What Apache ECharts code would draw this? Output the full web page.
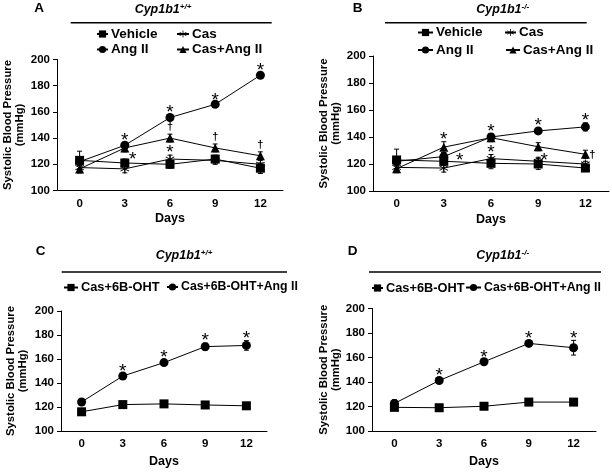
<!DOCTYPE html>
<html><head><meta charset="utf-8">
<script src="https://cdn.jsdelivr.net/npm/echarts@6/dist/echarts.min.js"></script>
<style>html,body{margin:0;padding:0;background:#fff}#c{width:612px;height:473px}</style>
</head><body><div id="c"></div>
<script>
// ---- data ----
const days = ['0', '3', '6', '9', '12'];
const yMin = 100, yMax = 200, yStep = 20;

// Panel A: Cyp1b1 +/+
const vehA = [123, 121, 120, 124, 117];
const casA = [117.5, 116.5, 124, 123, 120];
const angA = [122, 134.5, 155.7, 165.8, 188];
const casAngA = [116.5, 132.5, 140, 132.5, 126.5];
const vehAErr = [7, 3, 3, 3, 4];
const casAErr = [4, 3, 3, 3, 3];
const angAErr = [3, 2, 2, 1.5, 1.5];
const casAngAErr = [3, 3, 3, 3, 3];
const vehASig = ['', '*', '', '', ''];
const casASig = ['', '', '*', '', ''];
const angASig = ['', '*', '*', '*', '*'];
const casAngASig = ['', '', '\u2020', '\u2020', '\u2020'];

// Panel B: Cyp1b1 -/-
const vehB = [123, 122, 120.5, 120, 117];
const casB = [117.5, 117, 124, 122, 120];
const angB = [122, 125.5, 140, 144.5, 147.5];
const casAngB = [116.5, 132.5, 139.5, 132.8, 127.2];
const vehBErr = [8, 3, 4, 4, 2];
const casBErr = [3, 3, 3, 3, 2];
const angBErr = [3, 3, 2, 2, 3];
const casAngBErr = [3, 4, 3, 3, 3];
const vehBSig = ['', '*', '', '*', ''];
const casBSig = ['', '', '*', '', ''];
const angBSig = ['', '', '', '*', '*'];
const casAngBSig = ['', '*', '*', '', '\u2020'];

// Panel C: Cyp1b1 +/+
const ohtC = [116, 122, 122.6, 121.7, 121];
const ohtAngC = [124.2, 145.8, 157, 170.3, 171.3];
const ohtCErr = [2, 2, 2, 2, 2];
const ohtAngCErr = [2, 2, 2, 3, 4];
const ohtAngCSig = ['', '*', '*', '*', '*'];

// Panel D: Cyp1b1 -/-
const ohtD = [119.3, 119, 120.2, 123.6, 123.6];
const ohtAngD = [122.5, 141.2, 156.5, 171.5, 168];
const ohtDErr = [1.5, 1.5, 1.5, 1.5, 1.5];
const ohtAngDErr = [3, 2, 2, 2, 6];
const ohtAngDSig = ['', '*', '*', '*', '*'];

const yName = 'Systolic Blood Pressure\n(mmHg)';
const xName = 'Days';

// ---- styling ----
const F = 'Liberation Sans, Arial, sans-serif';
const STAR = 'path://M4.5,0L5.5,0L5.5,10L4.5,10Z M0.42,2.93L0.92,2.07L9.58,7.07L9.08,7.93Z M0.92,7.93L0.42,7.07L9.08,2.07L9.58,2.93Z';

const grids = [
  {left: 57, top: 59.5, width: 226, height: 131},
  {left: 373, top: 56, width: 236, height: 135},
  {left: 61, top: 311, width: 206, height: 120},
  {left: 372, top: 308.5, width: 224, height: 122.5}
];
const yNameGap = [31, 31, 32, 29];
const xNameGap = [22, 22, 24, 24];

function xAx(g) {
  return {type: 'category', gridIndex: g, data: days, boundaryGap: true,
    axisLine: {lineStyle: {color: '#000', width: 1}},
    axisTick: {alignWithLabel: true, length: 4, lineStyle: {color: '#000'}},
    axisLabel: {color: '#000', fontSize: 11.5, fontWeight: 'bold', fontFamily: F, margin: 7},
    name: xName, nameLocation: 'middle', nameGap: xNameGap[g],
    nameTextStyle: {color: '#000', fontSize: 12.5, fontWeight: 'bold', fontFamily: F}};
}
function yAx(g) {
  return {type: 'value', gridIndex: g, min: yMin, max: yMax, interval: yStep,
    splitLine: {show: false},
    axisLine: {show: true, lineStyle: {color: '#000', width: 1}},
    axisTick: {show: true, length: 4, lineStyle: {color: '#000'}},
    axisLabel: {color: '#000', fontSize: 11.5, fontWeight: 'bold', fontFamily: F, margin: 7},
    name: yName, nameLocation: 'middle', nameGap: yNameGap[g], nameRotate: 90,
    nameTextStyle: {color: '#000', fontSize: 11.3, fontWeight: 'bold', fontFamily: F, lineHeight: 12}};
}
function line(name, g, vals, symbol, size) {
  return {type: 'line', name, xAxisIndex: g, yAxisIndex: g, data: vals,
    symbol, symbolSize: size, showSymbol: true,
    lineStyle: {color: '#000', width: 1}, itemStyle: {color: '#000'}, z: 4};
}
function err(g, vals, errs) {
  return {type: 'custom', xAxisIndex: g, yAxisIndex: g, z: 3, silent: true,
    data: vals.map((v, i) => [i, v - errs[i], v + errs[i]]),
    renderItem(params, api) {
      const lo = api.coord([api.value(0), api.value(1)]);
      const hi = api.coord([api.value(0), api.value(2)]);
      const w = 2.5, st = {stroke: '#000', lineWidth: 1};
      return {type: 'group', children: [
        {type: 'line', shape: {x1: lo[0], y1: lo[1], x2: hi[0], y2: hi[1]}, style: st},
        {type: 'line', shape: {x1: hi[0] - w, y1: hi[1], x2: hi[0] + w, y2: hi[1]}, style: st},
        {type: 'line', shape: {x1: lo[0] - w, y1: lo[1], x2: lo[0] + w, y2: lo[1]}, style: st}
      ]};
    }};
}
// significance marks, anchored at the top of each error bar
function sig(g, vals, errs, sigs, offs) {
  return {type: 'custom', xAxisIndex: g, yAxisIndex: g, z: 6, silent: true,
    data: vals.map((v, i) => [i, v + errs[i]]),
    renderItem(params, api) {
      const i = params.dataIndex, t = sigs[i];
      if (!t) return null;
      const p = api.coord([api.value(0), api.value(1)]);
      const isStar = t === '*';
      const o = (offs && offs[i]) || (isStar ? [0, -2] : [0, -7]);
      return {type: 'text', x: p[0] + o[0], y: p[1] + o[1],
        style: {text: t, fill: '#000', fontFamily: F,
          fontSize: isStar ? 19 : 11, fontWeight: isStar ? 'normal' : 'bold',
          align: 'center', verticalAlign: 'middle'}};
    }};
}

const series = [
  // A
  line('Vehicle', 0, vehA, 'rect', 9), line('Cas', 0, casA, STAR, 9),
  line('Ang II', 0, angA, 'circle', 9), line('Cas+Ang II', 0, casAngA, 'triangle', 9),
  err(0, vehA, vehAErr), err(0, casA, casAErr), err(0, angA, angAErr), err(0, casAngA, casAngAErr),
  sig(0, vehA, vehAErr, vehASig, {1: [8, 1]}), sig(0, casA, casAErr, casASig),
  sig(0, angA, angAErr, angASig), sig(0, casAngA, casAngAErr, casAngASig),
  // B
  line('Vehicle', 1, vehB, 'rect', 9), line('Cas', 1, casB, STAR, 9),
  line('Ang II', 1, angB, 'circle', 9), line('Cas+Ang II', 1, casAngB, 'triangle', 9),
  err(1, vehB, vehBErr), err(1, casB, casBErr), err(1, angB, angBErr), err(1, casAngB, casAngBErr),
  sig(1, vehB, vehBErr, vehBSig, {1: [16, 4], 3: [6, 2]}), sig(1, casB, casBErr, casBSig),
  sig(1, angB, angBErr, angBSig), sig(1, casAngB, casAngBErr, casAngBSig, {4: [7, 5]}),
  // C
  line('Cas+6B-OHT', 2, ohtC, 'rect', 9), line('Cas+6B-OHT+Ang II', 2, ohtAngC, 'circle', 9),
  err(2, ohtC, ohtCErr), err(2, ohtAngC, ohtAngCErr),
  sig(2, ohtAngC, ohtAngCErr, ohtAngCSig),
  // D
  line('Cas+6B-OHT', 3, ohtD, 'rect', 9), line('Cas+6B-OHT+Ang II', 3, ohtAngD, 'circle', 9),
  err(3, ohtD, ohtDErr), err(3, ohtAngD, ohtAngDErr),
  sig(3, ohtAngD, ohtAngDErr, ohtAngDSig)
];

function leg(name, left, cy, w, fs) {
  return {data: [name], left, top: cy - 7, itemWidth: w, itemHeight: 9, itemGap: 0,
    padding: 0, selectedMode: false,
    textStyle: {color: '#000', fontSize: fs, fontWeight: 'bold', fontFamily: F, padding: [0, 0, 0, -2]}};
}
const legends = [
  leg('Vehicle', 96, 34, 11, 13.5), leg('Cas', 176, 34, 12, 13.5),
  leg('Ang II', 96, 49.5, 11, 13.5), leg('Cas+Ang II', 176, 49.5, 12, 13.5),
  leg('Vehicle', 417, 32.5, 15, 13.5), leg('Cas', 504, 32.5, 11, 13.5),
  leg('Ang II', 417, 50, 15, 13.5), leg('Cas+Ang II', 505, 50, 14, 13.5),
  leg('Cas+6B-OHT', 63, 288, 14, 12.8), leg('Cas+6B-OHT+Ang II', 166, 288, 11, 12.3),
  leg('Cas+6B-OHT', 371, 288.5, 11, 12.8), leg('Cas+6B-OHT+Ang II', 465, 288.5, 15, 12.3)
];

function title(x, y, sup) {
  return {type: 'text', x, y, style: {
    text: '{a|Cyp1b1}{b|' + sup + '}', align: 'center', verticalAlign: 'middle',
    rich: {a: {fontSize: 12.5, fontWeight: 'bold', fontStyle: 'italic', fontFamily: F, fill: '#000', lineHeight: 14},
           b: {fontSize: 8, fontWeight: 'bold', fontStyle: 'italic', fontFamily: F, fill: '#000', verticalAlign: 'top', lineHeight: 9}}}};
}
function hline(x1, x2, y) {
  return {type: 'line', shape: {x1, y1: y, x2, y2: y}, style: {stroke: '#000', lineWidth: 1.5}};
}
function letter(t, x, y) {
  return {type: 'text', x, y, style: {text: t, fontSize: 13.5, fontWeight: 'bold', fontFamily: F, fill: '#000', align: 'center', verticalAlign: 'middle'}};
}

const chart = echarts.init(document.getElementById('c'), null, {renderer: 'canvas'});
chart.setOption({
  animation: false,
  backgroundColor: '#fff',
  grid: grids,
  xAxis: [0, 1, 2, 3].map(xAx),
  yAxis: [0, 1, 2, 3].map(yAx),
  legend: legends,
  series,
  graphic: [
    title(163, 10, '+/+'), title(502.7, 10, '-/-'), title(184, 256, '+/+'), title(502.7, 256, '-/-'),
    hline(70.7, 271.7, 22.7), hline(385, 586.7, 22.7), hline(61.7, 287, 272), hline(369, 601, 272),
    letter('A', 39, 8.5), letter('B', 357.5, 8), letter('C', 40.7, 251), letter('D', 352.7, 251)
  ]
});
</script></body></html>
